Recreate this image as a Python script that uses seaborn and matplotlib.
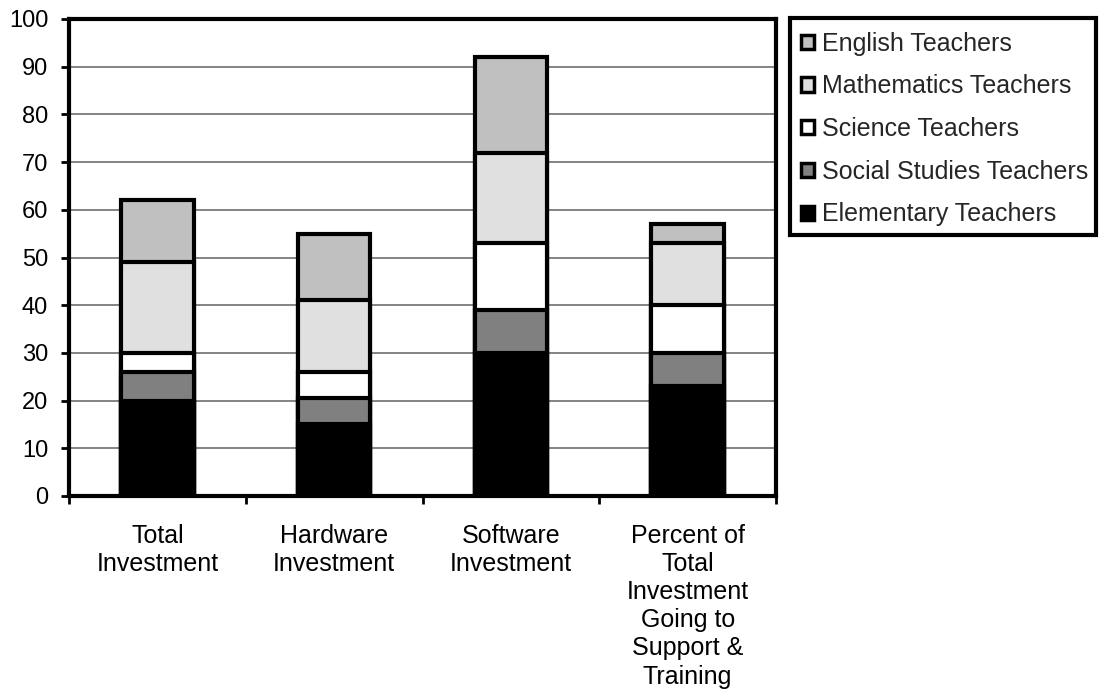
import matplotlib
matplotlib.use("Agg")
import matplotlib.pyplot as plt
import seaborn as sns
import pandas as pd
import numpy as np
from matplotlib.patches import Patch, Rectangle

categories = [
    "Total\nInvestment",
    "Hardware\nInvestment",
    "Software\nInvestment",
    "Percent of\nTotal\nInvestment\nGoing to\nSupport &\nTraining",
]
series_names = [
    "Elementary Teachers",
    "Social Studies Teachers",
    "Science Teachers",
    "Mathematics Teachers",
    "English Teachers",
]
elementary = [20, 15, 30, 23]
social_studies = [6, 5.5, 9, 7]
science = [4, 5.5, 14, 10]
mathematics = [19, 15, 19, 13]
english = [13, 14, 20, 4]

colors = ["#000000", "#808080", "#ffffff", "#e0e0e0", "#c0c0c0"]

sns.set_theme(style="white")
plt.rcParams["font.family"] = ["Liberation Sans", "DejaVu Sans"]

values = np.array([elementary, social_studies, science, mathematics, english])
cumulative = np.cumsum(values, axis=0)

W, H = 1101, 700
fig = plt.figure(figsize=(W / 100, H / 100), dpi=100)
ax = fig.add_axes([69 / W, 1 - 496 / H, (776 - 69) / W, (496 - 19) / H])

# Stack by drawing cumulative totals from the top layer down
for i in range(len(series_names) - 1, -1, -1):
    df = pd.DataFrame({"category": categories, "value": cumulative[i]})
    sns.barplot(data=df, x="category", y="value", color=colors[i],
                saturation=1, edgecolor="black", linewidth=3, width=0.41,
                ax=ax, zorder=3)

ax.set_ylim(0, 100)
ax.set_xlim(-0.5, 3.5)
ax.set_yticks(np.arange(0, 101, 10))
ax.yaxis.grid(True, color="#707070", linewidth=1.2, zorder=0)
ax.xaxis.grid(False)
ax.set_xlabel("")
ax.set_ylabel("")
ax.set_xticks(range(len(categories)))
ax.set_xticklabels(categories, fontsize=18, linespacing=1.22, color="black")
ax.set_xticks(np.arange(-0.5, 4, 1), minor=True)
ax.tick_params(axis="x", which="major", length=0, pad=20)
ax.tick_params(axis="x", which="minor", bottom=True, length=6, width=2, color="black")
ax.tick_params(axis="y", left=True, length=6, width=2, color="black",
               labelsize=17, labelcolor="black", pad=9)
for side in ["left", "bottom", "top", "right"]:
    ax.spines[side].set_visible(True)
    ax.spines[side].set_color("black")
    ax.spines[side].set_linewidth(3)

# Legend entries, top layer first, inside a square black box
handles = [Patch(facecolor=colors[i], edgecolor="black", linewidth=2.5,
                 label=series_names[i]) for i in range(len(series_names) - 1, -1, -1)]
fs = 18
pad = 0.5
leg = fig.legend(handles=handles, loc="upper left",
                 bbox_to_anchor=((801 - pad * fs * 100 / 72) / W, 1 - 19 / H),
                 frameon=False, fontsize=fs,
                 handlelength=0.5, handleheight=0.5, handletextpad=0.35,
                 labelspacing=0.75, borderpad=pad, borderaxespad=0)
fig.add_artist(Rectangle((790 / W, 1 - 235 / H), (1096 - 790) / W, (235 - 18) / H,
                         transform=fig.transFigure, fill=False,
                         edgecolor="black", linewidth=3))

fig.savefig("out.png", dpi=100)
